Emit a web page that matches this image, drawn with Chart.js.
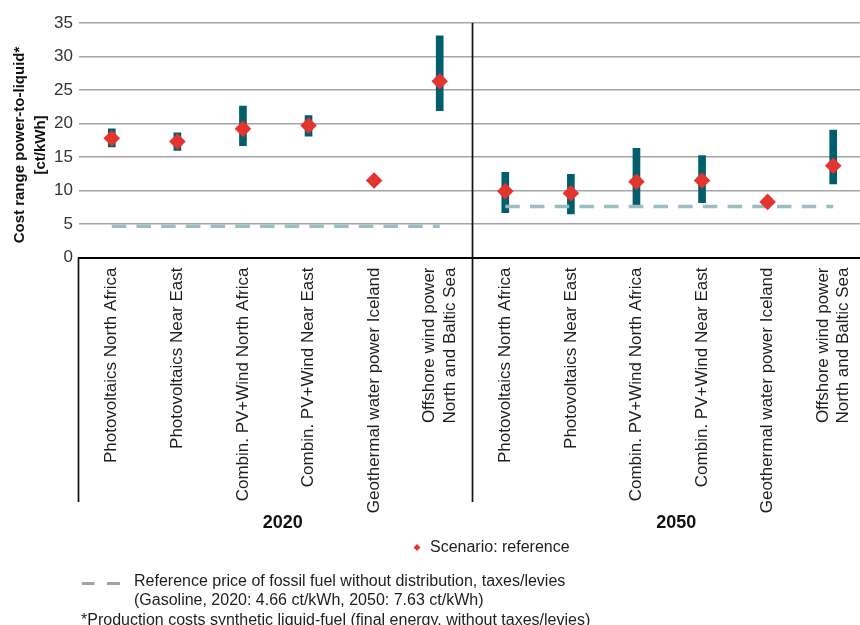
<!DOCTYPE html>
<html>
<head>
<meta charset="utf-8">
<title>Cost range power-to-liquid</title>
<script src="https://cdn.jsdelivr.net/npm/chart.js@4/dist/chart.umd.min.js"></script>
<style>
  html, body { margin: 0; padding: 0; background: #fff; overflow: hidden; width: 860px; height: 625px; }
  #wrap { position: relative; width: 866px; height: 625px; }
  canvas { display: block; }
</style>
</head>
<body>
<div id="wrap"><canvas id="chart" width="866" height="625"></canvas></div>
<script>
// Technologies (x-axis categories), repeated once per scenario year
const technologies = [
  ['Photovoltaics North Africa'],
  ['Photovoltaics Near East'],
  ['Combin. PV+Wind North Africa'],
  ['Combin. PV+Wind Near East'],
  ['Geothermal water power Iceland'],
  ['Offshore wind power', 'North and Baltic Sea']
];
const years = ['2020', '2050'];

// Cost range (ct/kWh): lower and upper bound, plus the reference scenario value
const costLow2020  = [16.5, 16.0, 16.7, 18.1, null, 21.9];
const costHigh2020 = [19.2, 18.6, 22.6, 21.2, null, 33.1];
const costRef2020  = [17.8, 17.3, 19.2, 19.7, 11.5, 26.3];

const costLow2050  = [6.7, 6.5, 7.8, 8.2, null, 11.0];
const costHigh2050 = [12.7, 12.4, 16.3, 15.2, null, 19.0];
const costRef2050  = [9.9, 9.6, 11.3, 11.5, 8.3, 13.7];

// Gasoline reference price without distribution, taxes/levies (2020, 2050)
const fossilPrice = [4.66, 7.63];

// Value axis
const yMin = 0, yMax = 35, yStep = 5;

const legendTexts = {
  scenario: 'Scenario: reference',
  fossil: ['Reference price of fossil fuel without distribution, taxes/levies',
           '(Gasoline, 2020: 4.66 ct/kWh, 2050: 7.63 ct/kWh)'],
  footnote: '*Production costs synthetic liquid-fuel (final energy, without taxes/levies)'
};
const yTitle = ['Cost range power-to-liquid*', '[ct/kWh]'];

// ---- derived series ----
const n = technologies.length;
const labels = years.flatMap(() => technologies);
const lows = costLow2020.concat(costLow2050);
const highs = costHigh2020.concat(costHigh2050);
const ranges = lows.map((lo, i) => (lo == null ? null : [lo, highs[i]]));
const refs = costRef2020.concat(costRef2050);
const fossil2020 = labels.map((_, i) => (i < n ? fossilPrice[0] : null));
const fossil2050 = labels.map((_, i) => (i >= n ? fossilPrice[1] : null));

const FONT = "'Liberation Sans', Arial, Helvetica, sans-serif";
const TEAL = '#005f6a';
const RED = '#e2352f';
const DASH = '#9dbdc2';

const overlay = {
  id: 'overlay',
  afterDraw(chart) {
    const { ctx, chartArea, scales: { x } } = chart;
    ctx.save();

    // rotated category labels
    ctx.fillStyle = '#1e1e1e';
    ctx.font = `17px ${FONT}`;
    ctx.textAlign = 'right';
    ctx.textBaseline = 'middle';
    labels.forEach((lines, i) => {
      const px = x.getPixelForValue(i);
      lines.forEach((line, j) => {
        const off = (j - (lines.length - 1) / 2) * 20.5;
        ctx.save();
        ctx.translate(px + off, chartArea.bottom + 10);
        ctx.rotate(-Math.PI / 2);
        ctx.fillText(line, 0, 0);
        ctx.restore();
      });
    });

    // separators of the two year groups
    const split = (x.getPixelForValue(n - 1) + x.getPixelForValue(n)) / 2;
    const groupBottom = 502;
    ctx.strokeStyle = '#111';
    ctx.lineWidth = 1.7;
    ctx.beginPath();
    ctx.moveTo(chartArea.left - 0.5, chartArea.bottom);
    ctx.lineTo(chartArea.left - 0.5, groupBottom);
    ctx.moveTo(split, chartArea.top);
    ctx.lineTo(split, groupBottom);
    ctx.stroke();

    // year labels
    ctx.font = `bold 18px ${FONT}`;
    ctx.textAlign = 'center';
    ctx.textBaseline = 'alphabetic';
    ctx.fillStyle = '#111';
    ctx.fillText(years[0], (chartArea.left + split) / 2 + 7, 528);
    ctx.fillText(years[1], (split + chartArea.right) / 2 + 7, 528);

    // y-axis title
    ctx.font = `bold 15px ${FONT}`;
    const ty = 145;
    [[yTitle[0], 23.5], [yTitle[1], 45]].forEach(([t, bx]) => {
      ctx.save();
      ctx.translate(bx, ty);
      ctx.rotate(-Math.PI / 2);
      ctx.fillText(t, 0, 0);
      ctx.restore();
    });

    // legend: scenario marker
    ctx.fillStyle = RED;
    ctx.beginPath();
    ctx.moveTo(417, 544);
    ctx.lineTo(420.5, 547.5);
    ctx.lineTo(417, 551);
    ctx.lineTo(413.5, 547.5);
    ctx.closePath();
    ctx.fill();
    ctx.fillStyle = '#1e1e1e';
    ctx.font = `16px ${FONT}`;
    ctx.textAlign = 'left';
    ctx.fillText(legendTexts.scenario, 430, 551.5);

    // legend: fossil reference price
    ctx.strokeStyle = '#a3a3a3';
    ctx.lineWidth = 3;
    ctx.beginPath();
    ctx.moveTo(82, 583.5); ctx.lineTo(94.5, 583.5);
    ctx.moveTo(107, 583.5); ctx.lineTo(120, 583.5);
    ctx.stroke();
    ctx.fillText(legendTexts.fossil[0], 134, 586);
    ctx.fillText(legendTexts.fossil[1], 134, 605);
    ctx.fillText(legendTexts.footnote, 81, 624.5);

    ctx.restore();
  }
};

new Chart(document.getElementById('chart'), {
  type: 'bar',
  data: {
    labels: labels.map(l => l.join(' ')),
    datasets: [
      {
        type: 'line',
        label: 'Scenario: reference',
        data: refs,
        showLine: false,
        pointStyle: 'rectRot',
        pointRadius: 8.3,
        pointHoverRadius: 8.3,
        pointBackgroundColor: RED,
        pointBorderWidth: 0,
        order: 1
      },
      {
        type: 'line',
        label: 'Fossil reference 2020',
        data: fossil2020,
        borderColor: DASH,
        borderWidth: 3.5,
        borderDash: [14.5, 10.2],
        borderCapStyle: 'butt',
        pointRadius: 0,
        spanGaps: false,
        order: 2
      },
      {
        type: 'line',
        label: 'Fossil reference 2050',
        data: fossil2050,
        borderColor: DASH,
        borderWidth: 3.5,
        borderDash: [14.5, 10.2],
        borderCapStyle: 'butt',
        pointRadius: 0,
        spanGaps: false,
        order: 2
      },
      {
        label: 'Cost range',
        data: ranges,
        backgroundColor: TEAL,
        borderWidth: 0,
        barThickness: 7,
        order: 3
      }
    ]
  },
  options: {
    responsive: false,
    animation: false,
    devicePixelRatio: 1,
    layout: { autoPadding: false, padding: { top: 23, left: 0, right: 0, bottom: 0 } },
    plugins: { legend: { display: false }, tooltip: { enabled: false } },
    scales: {
      x: {
        offset: true,
        grid: { display: false, drawTicks: false },
        border: { display: true, color: '#000', width: 2 },
        ticks: { display: false },
        afterFit(scale) { scale.height = 367.5; }
      },
      y: {
        min: yMin,
        max: yMax,
        ticks: {
          stepSize: yStep,
          padding: 6,
          color: '#333',
          font: { family: FONT, size: 17 }
        },
        grid: { color: '#a5a5a5', lineWidth: 1.5, drawTicks: false },
        border: { display: false },
        afterFit(scale) { scale.width = 79; }
      }
    }
  },
  plugins: [overlay]
});
</script>
</body>
</html>
